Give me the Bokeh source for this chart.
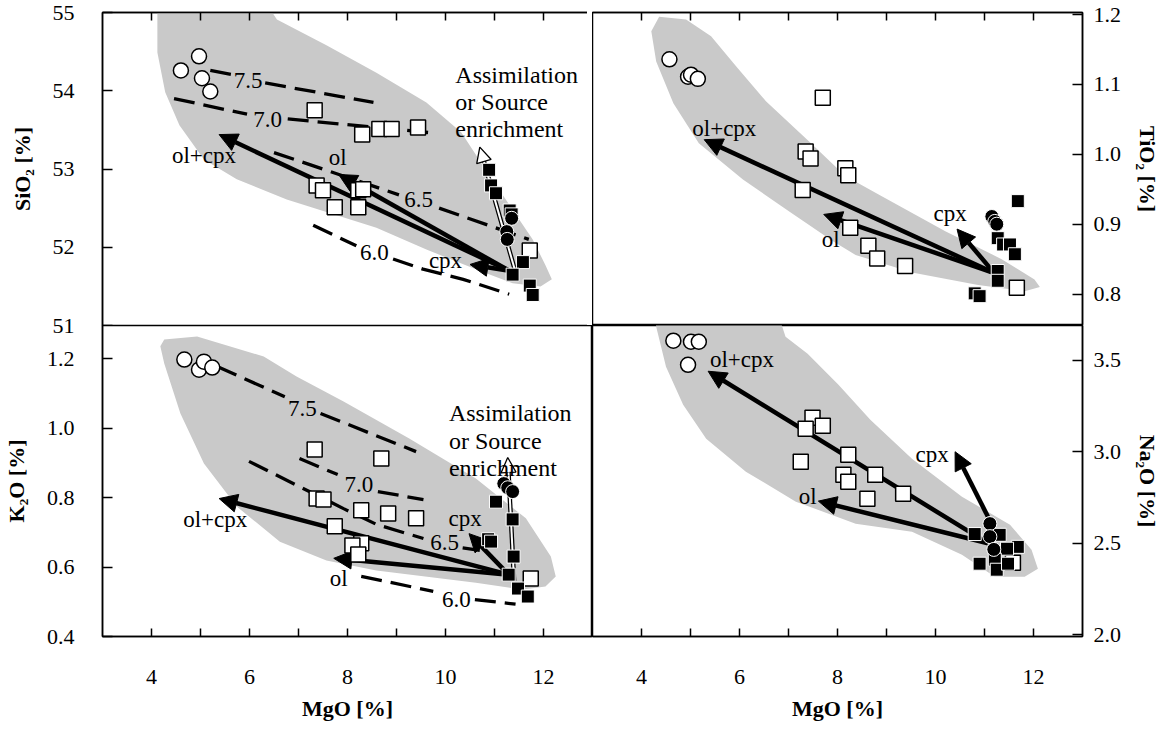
import math
from bokeh.plotting import figure
from bokeh.layouts import row, column
from bokeh.models import Range1d, FixedTicker, Arrow, NormalHead, ColumnDataSource, PrintfTickFormatter
from bokeh.core.properties import value
from bokeh.embed import file_html
from bokeh.resources import INLINE

NaN = float("nan")
SERIF = "Liberation Serif"
SHADE = "#c9c9c9"

# ---------------- axes ----------------
x_title = "MgO [%]"
x_ticks = [4, 6, 8, 10, 12]
x_minor = [5, 7, 9, 11]
sio2_ticks = [51, 52, 53, 54, 55]
tio2_ticks = [0.8, 0.9, 1.0, 1.1, 1.2]
k2o_ticks = [0.4, 0.6, 0.8, 1.0, 1.2]
na2o_ticks = [2.0, 2.5, 3.0, 3.5]

# ---------------- SiO2 panel ----------------
sio2_open_circle_mgo = [4.60, 4.97, 5.03, 5.20]
sio2_open_circle = [54.26, 54.44, 54.16, 53.99]
sio2_open_square_mgo = [7.33, 8.30, 8.65, 8.90, 9.44, 7.37, 7.50, 8.22, 8.32, 7.74, 8.22, 11.72]
sio2_open_square = [53.75, 53.44, 53.51, 53.51, 53.53, 52.79, 52.73, 52.73, 52.74, 52.51, 52.51, 51.96]
sio2_filled_square_mgo = [10.89, 10.93, 11.03, 11.31, 11.35, 11.58, 11.37, 11.72, 11.78]
sio2_filled_square = [52.99, 52.79, 52.69, 52.47, 52.42, 51.81, 51.65, 51.51, 51.39]
sio2_filled_circle_mgo = [11.35, 11.25, 11.26]
sio2_filled_circle = [52.37, 52.20, 52.10]
sio2_field_mgo = [4.12, 6.19, 6.56, 7.57, 8.59, 9.61, 10.32, 10.83, 11.37, 11.78, 12.04, 12.17,
                  11.94, 11.37, 10.62, 9.61, 8.59, 7.57, 6.76, 5.74, 5.07, 4.57, 4.28, 4.12]
sio2_field = [55.26, 55.26, 54.91, 54.58, 54.23, 53.85, 53.47, 52.98, 52.48, 52.10, 51.77, 51.59,
              51.50, 51.54, 51.72, 51.97, 52.25, 52.45, 52.61, 52.87, 53.12, 53.56, 53.98, 54.49]
sio2_arrow_mgo0 = [11.30, 11.30, 11.30]
sio2_arrow_0 = [51.70, 51.70, 51.70]
sio2_arrow_mgo1 = [5.38, 7.82, 10.50]
sio2_arrow_1 = [53.44, 52.93, 51.78]
sio2_arrow_text = ["ol+cpx", "ol", "cpx"]
sio2_arrow_text_mgo = [5.07, 7.80, 10.00]
sio2_arrow_text_y = [53.17, 53.15, 51.83]
sio2_assim_mgo = [11.43, 10.70]
sio2_assim = [51.68, 53.28]
sio2_iso_75_mgo = [5.20, 5.62, NaN, 6.32, 8.53]
sio2_iso_75 = [54.26, 54.21, NaN, 54.10, 53.85]
sio2_iso_70_mgo = [4.46, 5.95, NaN, 6.78, 9.75]
sio2_iso_70 = [53.90, 53.70, NaN, 53.64, 53.46]
sio2_iso_65_mgo = [6.50, 9.05, NaN, 9.87, 11.70]
sio2_iso_65 = [53.21, 52.67, NaN, 52.50, 52.10]
sio2_iso_60_mgo = [7.30, 8.18, NaN, 8.93, 9.54, 10.36, 11.30]
sio2_iso_60 = [52.28, 52.02, NaN, 51.85, 51.72, 51.59, 51.40]
sio2_iso_text = ["7.5", "7.0", "6.5", "6.0"]
sio2_iso_text_mgo = [5.97, 6.37, 9.45, 8.55]
sio2_iso_text_y = [54.13, 53.63, 52.61, 51.93]
sio2_assim_text_pos = (10.20, 54.37)

# ---------------- TiO2 panel ----------------
tio2_open_circle_mgo = [4.57, 4.95, 5.01, 5.15]
tio2_open_circle = [1.136, 1.111, 1.114, 1.108]
tio2_open_square_mgo = [7.70, 7.35, 7.45, 8.16, 8.22, 7.29, 8.26, 8.63, 8.81, 9.38, 11.66]
tio2_open_square = [1.081, 1.004, 0.994, 0.980, 0.970, 0.949, 0.895, 0.869, 0.851, 0.840, 0.809]
tio2_filled_square_mgo = [11.68, 11.27, 11.38, 11.52, 11.62, 11.27, 11.27, 10.80, 10.90]
tio2_filled_square = [0.933, 0.880, 0.871, 0.871, 0.857, 0.833, 0.819, 0.801, 0.797]
tio2_filled_circle_mgo = [11.15, 11.21, 11.25]
tio2_filled_circle = [0.911, 0.904, 0.900]
tio2_field_mgo = [4.36, 4.91, 5.42, 5.93, 6.54, 7.41, 8.16, 8.83, 10.20, 11.35, 12.02, 12.13,
                  11.82, 10.87, 9.52, 8.37, 7.90, 7.00, 6.07, 5.17, 4.65, 4.30, 4.20]
tio2_field = [1.197, 1.193, 1.169, 1.126, 1.076, 1.019, 0.969, 0.943, 0.890, 0.850, 0.821, 0.810,
              0.804, 0.813, 0.831, 0.856, 0.876, 0.919, 0.964, 1.016, 1.073, 1.133, 1.176]
tio2_arrow_mgo0 = [11.20, 11.20, 11.20]
tio2_arrow_0 = [0.830, 0.830, 0.830]
tio2_arrow_mgo1 = [5.28, 7.72, 10.44]
tio2_arrow_1 = [1.021, 0.914, 0.893]
tio2_arrow_text = ["ol+cpx", "ol", "cpx"]
tio2_arrow_text_mgo = [5.69, 7.86, 10.30]
tio2_arrow_text_y = [1.037, 0.878, 0.916]

# ---------------- K2O panel ----------------
k2o_open_circle_mgo = [4.67, 4.97, 5.07, 5.24]
k2o_open_circle = [1.197, 1.168, 1.191, 1.174]
k2o_open_square_mgo = [7.33, 8.69, 7.37, 7.51, 8.28, 8.83, 9.40, 7.74, 8.28, 8.10, 8.22, 11.74]
k2o_open_square = [0.938, 0.912, 0.797, 0.794, 0.763, 0.754, 0.740, 0.717, 0.668, 0.662, 0.636, 0.567]
k2o_filled_square_mgo = [11.03, 11.37, 10.87, 10.93, 11.39, 11.29, 11.48, 11.68]
k2o_filled_square = [0.788, 0.737, 0.680, 0.673, 0.630, 0.578, 0.538, 0.515]
k2o_filled_circle_mgo = [11.19, 11.27, 11.37]
k2o_filled_circle = [0.840, 0.828, 0.817]
k2o_field_mgo = [4.26, 4.93, 6.29, 6.96, 7.92, 9.26, 10.62, 11.64, 12.15, 12.25, 12.04, 11.58,
                 10.62, 8.59, 7.57, 6.62, 5.74, 5.07, 4.59, 4.26, 4.18]
k2o_field = [1.255, 1.263, 1.206, 1.148, 1.076, 0.970, 0.855, 0.740, 0.630, 0.573, 0.544, 0.535,
             0.555, 0.590, 0.619, 0.673, 0.774, 0.898, 1.042, 1.186, 1.235]
k2o_arrow_mgo0 = [11.29, 11.29, 11.29]
k2o_arrow_0 = [0.578, 0.578, 0.578]
k2o_arrow_mgo1 = [5.38, 7.72, 10.48]
k2o_arrow_1 = [0.797, 0.625, 0.696]
k2o_arrow_text = ["ol+cpx", "ol", "cpx"]
k2o_arrow_text_mgo = [5.30, 7.82, 10.40]
k2o_arrow_text_y = [0.737, 0.567, 0.740]
k2o_assim_mgo = [11.40, 11.27]
k2o_assim = [0.560, 0.915]
k2o_iso_75_mgo = [5.34, 6.72, NaN, 7.45, 9.40]
k2o_iso_75 = [1.177, 1.090, NaN, 1.042, 0.932]
k2o_iso_70_mgo = [7.02, 7.80, NaN, 8.62, 9.55]
k2o_iso_70 = [0.912, 0.866, NaN, 0.817, 0.794]
k2o_iso_65_mgo = [5.99, 7.92, 8.60, 9.55, NaN, 10.35, 10.70]
k2o_iso_65 = [0.904, 0.768, 0.722, 0.682, NaN, 0.655, 0.648]
k2o_iso_60_mgo = [8.28, 9.75, NaN, 10.60, 11.43]
k2o_iso_60 = [0.573, 0.530, NaN, 0.506, 0.493]
k2o_iso_text = ["7.5", "7.0", "6.5", "6.0"]
k2o_iso_text_mgo = [7.08, 8.23, 9.98, 10.22]
k2o_iso_text_y = [1.056, 0.837, 0.670, 0.506]
k2o_assim_text_pos = (10.07, 1.080)

# ---------------- Na2O panel ----------------
na2o_open_circle_mgo = [4.65, 5.01, 5.17, 4.95]
na2o_open_circle = [3.607, 3.601, 3.601, 3.475]
na2o_open_square_mgo = [7.49, 7.35, 7.70, 7.25, 8.22, 8.12, 8.22, 8.77, 8.61, 9.34, 11.58]
na2o_open_square = [3.186, 3.126, 3.142, 2.945, 2.984, 2.874, 2.836, 2.874, 2.743, 2.770, 2.393]
na2o_filled_square_mgo = [10.80, 11.31, 11.68, 11.46, 10.90, 11.21, 11.25, 11.48]
na2o_filled_square = [2.550, 2.546, 2.480, 2.470, 2.388, 2.410, 2.355, 2.388]
na2o_filled_circle_mgo = [11.11, 11.11, 11.19]
na2o_filled_circle = [2.607, 2.536, 2.466]
na2o_field_mgo = [4.20, 6.64, 6.94, 7.39, 8.02, 8.67, 9.52, 10.54, 11.52, 11.96, 12.09, 11.82,
                  11.21, 10.54, 9.52, 8.37, 7.15, 6.13, 5.32, 4.85, 4.50, 4.30]
na2o_field = [3.874, 3.874, 3.628, 3.536, 3.366, 3.175, 2.962, 2.754, 2.601, 2.464, 2.361, 2.317,
              2.317, 2.437, 2.563, 2.607, 2.727, 2.891, 3.071, 3.257, 3.464, 3.683]
na2o_arrow_mgo0 = [11.07, 11.07, 11.07]
na2o_arrow_0 = [2.50, 2.50, 2.645]
na2o_arrow_mgo1 = [5.36, 7.61, 10.40]
na2o_arrow_1 = [3.44, 2.73, 3.00]
na2o_arrow_text = ["ol+cpx", "ol", "cpx"]
na2o_arrow_text_mgo = [6.05, 7.39, 9.93]
na2o_arrow_text_y = [3.503, 2.754, 2.984]

ASSIM_TEXT = "Assimilation\nor Source\nenrichment"


def make_panel(y_rng, y_ticks, y_title, side, top, y_fmt):
    p = figure(frame_width=490, frame_height=313 if top else 311,
               x_range=Range1d(3, 13), y_range=Range1d(*y_rng),
               x_axis_location="above" if top else "below",
               y_axis_location=side, output_backend="svg",
               toolbar_location=None, tools="")
    p.min_border_left = 97 if side == "left" else 0
    p.min_border_right = 76 if side == "right" else 0
    p.min_border_top = 12 if top else 0
    if top:
        p.min_border_bottom = 12 if side == "left" else 0
    else:
        p.min_border_bottom = 78
        p.border_fill_color = None
    p.xgrid.visible = False
    p.ygrid.visible = False
    p.outline_line_color = "black"
    p.outline_line_width = 1.5
    p.background_fill_color = "white"

    for ax in p.xaxis:
        ax.ticker = FixedTicker(ticks=x_ticks, minor_ticks=x_minor)
        ax.major_tick_in = 8
        ax.major_tick_out = 0
        ax.minor_tick_in = 8
        ax.minor_tick_out = 0
        ax.axis_line_width = 1.5
        ax.major_tick_line_width = 1.5
        ax.minor_tick_line_width = 1.5
        ax.axis_line_color = "black"
        ax.major_tick_line_color = "black"
        ax.minor_tick_line_color = "black"
        if top:
            ax.major_label_overrides = {t: "" for t in x_ticks}
            ax.major_label_text_font_size = "1px"
            ax.major_label_standoff = 0
        else:
            ax.major_label_text_font = SERIF
            ax.major_label_text_font_size = "22px"
            ax.major_label_text_color = "black"
            ax.major_label_standoff = 33
            ax.axis_label = x_title
            ax.axis_label_text_font = SERIF
            ax.axis_label_text_font_style = "bold"
            ax.axis_label_text_font_size = "22px"
            ax.axis_label_text_color = "black"
            ax.axis_label_standoff = 9
    for ax in p.yaxis:
        ax.ticker = FixedTicker(ticks=y_ticks, minor_ticks=[])
        ax.formatter = PrintfTickFormatter(format=y_fmt)
        ax.major_tick_in = 10
        ax.major_tick_out = 0
        ax.minor_tick_in = 0
        ax.minor_tick_out = 0
        ax.axis_line_width = 1.5
        ax.major_tick_line_width = 1.5
        ax.axis_line_color = "black"
        ax.major_tick_line_color = "black"
        ax.major_label_text_font = SERIF
        ax.major_label_text_font_size = "22px"
        ax.major_label_text_color = "black"
        ax.major_label_standoff = 28 if side == "left" else 11
        ax.axis_label = y_title
        ax.axis_label_text_font = SERIF
        ax.axis_label_text_font_style = "bold"
        ax.axis_label_text_font_size = "22px"
        ax.axis_label_text_color = "black"
        ax.axis_label_standoff = 15 if side == "left" else 11
    return p


def fill_panel(p, field_x, field_y, circ_x, circ_y, osq_x, osq_y, fsq_x, fsq_y, fci_x, fci_y,
               ax0, ay0, ax1, ay1, atext, atx, aty,
               isolines=None, iso_text=None, iso_tx=None, iso_ty=None,
               assim_x=None, assim_y=None, assim_pos=None):
    r = p.patch(field_x, field_y, fill_color=SHADE, line_color=None)
    r.level = "image"
    src = ColumnDataSource(dict(x0=ax0, y0=ay0, x1=ax1, y1=ay1))
    arr = Arrow(end=NormalHead(size=18, fill_color="black", line_color="black", line_width=1),
                x_start="x0", y_start="y0", x_end="x1", y_end="y1", source=src,
                line_width=4.5, line_color="black", level="underlay")
    p.add_layout(arr)
    if assim_x is not None:
        a1 = Arrow(end=NormalHead(size=15, fill_color="white", line_color="black", line_width=1.3),
                   x_start=assim_x[0], y_start=assim_y[0], x_end=assim_x[1], y_end=assim_y[1],
                   line_width=4.5, line_color="black", level="underlay")
        p.add_layout(a1)
        fx = assim_x[0] + 0.88 * (assim_x[1] - assim_x[0])
        fy = assim_y[0] + 0.88 * (assim_y[1] - assim_y[0])
        a2 = Arrow(end=None, x_start=assim_x[0], y_start=assim_y[0], x_end=fx, y_end=fy,
                   line_width=2, line_color="white", level="underlay")
        p.add_layout(a2)
    if isolines is not None:
        for lx, ly in isolines:
            p.line(lx, ly, line_color="black", line_width=3.3, line_dash="21 9")
        p.text(x=iso_tx, y=iso_ty, text=iso_text, text_font=value(SERIF), text_font_size="23px",
               text_align="center", text_baseline="middle", text_color="black")
    p.scatter(osq_x, osq_y, marker="square", size=15, fill_color="white", line_color="black", line_width=1.5)
    p.scatter(fsq_x, fsq_y, marker="square", size=13, fill_color="black", line_color="white", line_width=1)
    p.scatter(fci_x, fci_y, marker="circle", size=14, fill_color="black", line_color="white", line_width=1)
    p.scatter(circ_x, circ_y, marker="circle", size=15, fill_color="white", line_color="black", line_width=1.5)
    p.text(x=atx, y=aty, text=atext, text_font=value(SERIF), text_font_size="23px",
           text_align="center", text_baseline="middle", text_color="black")
    if assim_pos is not None:
        p.text(x=[assim_pos[0]], y=[assim_pos[1]], text=[ASSIM_TEXT], text_font=value(SERIF),
               text_font_size="24px", text_align="left", text_baseline="top",
               text_line_height=1.05, text_color="black")


tl = make_panel((51, 55), sio2_ticks, "SiO\u2082 [%]", "left", True, "%.0f")
tr = make_panel((0.755, 1.203), tio2_ticks, "TiO\u2082 [%]", "right", True, "%.1f")
bl = make_panel((0.4, 1.295), k2o_ticks, "K\u2082O [%]", "left", False, "%.1f")
br = make_panel((1.99, 3.69), na2o_ticks, "Na\u2082O [%]", "right", False, "%.1f")

fill_panel(tl, sio2_field_mgo, sio2_field, sio2_open_circle_mgo, sio2_open_circle,
           sio2_open_square_mgo, sio2_open_square, sio2_filled_square_mgo, sio2_filled_square,
           sio2_filled_circle_mgo, sio2_filled_circle,
           sio2_arrow_mgo0, sio2_arrow_0, sio2_arrow_mgo1, sio2_arrow_1,
           sio2_arrow_text, sio2_arrow_text_mgo, sio2_arrow_text_y,
           isolines=[(sio2_iso_75_mgo, sio2_iso_75), (sio2_iso_70_mgo, sio2_iso_70),
                     (sio2_iso_65_mgo, sio2_iso_65), (sio2_iso_60_mgo, sio2_iso_60)],
           iso_text=sio2_iso_text, iso_tx=sio2_iso_text_mgo, iso_ty=sio2_iso_text_y,
           assim_x=sio2_assim_mgo, assim_y=sio2_assim, assim_pos=sio2_assim_text_pos)

fill_panel(tr, tio2_field_mgo, tio2_field, tio2_open_circle_mgo, tio2_open_circle,
           tio2_open_square_mgo, tio2_open_square, tio2_filled_square_mgo, tio2_filled_square,
           tio2_filled_circle_mgo, tio2_filled_circle,
           tio2_arrow_mgo0, tio2_arrow_0, tio2_arrow_mgo1, tio2_arrow_1,
           tio2_arrow_text, tio2_arrow_text_mgo, tio2_arrow_text_y)

fill_panel(bl, k2o_field_mgo, k2o_field, k2o_open_circle_mgo, k2o_open_circle,
           k2o_open_square_mgo, k2o_open_square, k2o_filled_square_mgo, k2o_filled_square,
           k2o_filled_circle_mgo, k2o_filled_circle,
           k2o_arrow_mgo0, k2o_arrow_0, k2o_arrow_mgo1, k2o_arrow_1,
           k2o_arrow_text, k2o_arrow_text_mgo, k2o_arrow_text_y,
           isolines=[(k2o_iso_75_mgo, k2o_iso_75), (k2o_iso_70_mgo, k2o_iso_70),
                     (k2o_iso_65_mgo, k2o_iso_65), (k2o_iso_60_mgo, k2o_iso_60)],
           iso_text=k2o_iso_text, iso_tx=k2o_iso_text_mgo, iso_ty=k2o_iso_text_y,
           assim_x=k2o_assim_mgo, assim_y=k2o_assim, assim_pos=k2o_assim_text_pos)

fill_panel(br, na2o_field_mgo, na2o_field, na2o_open_circle_mgo, na2o_open_circle,
           na2o_open_square_mgo, na2o_open_square, na2o_filled_square_mgo, na2o_filled_square,
           na2o_filled_circle_mgo, na2o_filled_circle,
           na2o_arrow_mgo0, na2o_arrow_0, na2o_arrow_mgo1, na2o_arrow_1,
           na2o_arrow_text, na2o_arrow_text_mgo, na2o_arrow_text_y)

bl.margin = (-12, 0, 0, 0)
layout = row(column(tl, bl), column(tr, br))

with open("out.html", "w") as f:
    f.write(file_html(layout, INLINE, "MgO variation diagrams"))
